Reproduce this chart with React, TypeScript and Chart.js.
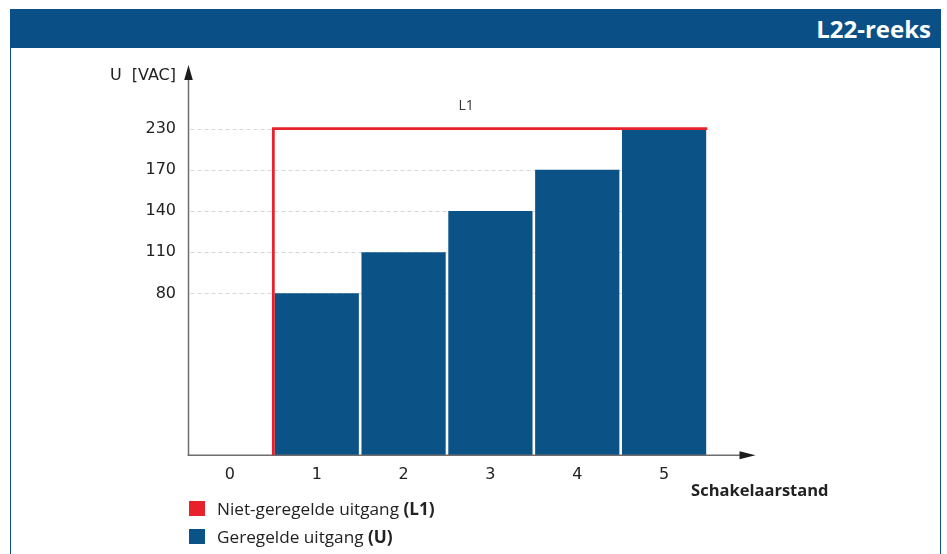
import { useEffect, useRef } from 'react';
import { Chart, registerables } from 'chart.js';

Chart.register(...registerables);

// ---- data ----
const switchPositions = ['0', '1', '2', '3', '4', '5'];
const regulatedOutput: (number | null)[] = [null, 80, 110, 140, 170, 230]; // U
const unregulatedOutput: number[] = [0, 230, 230, 230, 230, 230]; // L1
const yTickValues = [80, 110, 140, 170, 230];
const headerTitle = 'L22-reeks';
const yAxisTitle = 'U [VAC]';
const xAxisTitle = 'Schakelaarstand';
const l1Label = 'L1';
const legendItems = [
  { text: 'Niet-geregelde uitgang ', key: '(L1)', color: '#e8222c' },
  { text: 'Geregelde uitgang ', key: '(U)', color: '#0b5286' },
];

// ---- the original axis is not linear: ticks are evenly spaced ----
const FIRST_STEP = 3.93; // baseline to first tick, in tick steps
const Y_MAX = 9.23;
const knots: [number, number][] = [[0, 0], ...yTickValues.map((v, i) => [v, FIRST_STEP + i] as [number, number])];
function level(v: number): number {
  if (v <= 0) return 0;
  for (let i = 1; i < knots.length; i++) {
    const [v0, p0] = knots[i - 1];
    const [v1, p1] = knots[i];
    if (v <= v1) return p0 + ((v - v0) / (v1 - v0)) * (p1 - p0);
  }
  return knots[knots.length - 1][1];
}

const RED = '#e8222c';
const BLUE = '#0b5286';
const HEADER = '#0b4f87';
const AXIS = '#6e6e6e';

function buildStep(values: number[]) {
  const pts: { x: number; y: number }[] = [];
  values.forEach((v, i) => {
    if (v <= 0) return;
    const prev = i > 0 ? values[i - 1] : 0;
    if (prev <= 0) pts.push({ x: i - 0.5, y: 0 });
    pts.push({ x: i - 0.5, y: level(v) }, { x: i + 0.5, y: level(v) });
  });
  return pts;
}

const decorPlugin = {
  id: 'decor',
  beforeDatasetsDraw(chart: any) {
    const { ctx, chartArea, scales } = chart;
    const axisX = chartArea.left + 2;
    ctx.save();
    ctx.strokeStyle = '#d6d6d6';
    ctx.lineWidth = 1;
    ctx.setLineDash([4, 3]);
    scales.y.ticks.forEach((t: any) => {
      const y = Math.round(scales.y.getPixelForValue(t.value)) + 0.5;
      ctx.beginPath();
      ctx.moveTo(axisX + 2, y);
      ctx.lineTo(chartArea.right, y);
      ctx.stroke();
    });
    ctx.restore();
  },
  afterDatasetDraw(chart: any, args: any) {
    if (args.index !== 0) return;
    const { ctx, chartArea, scales } = chart;
    const axisX = chartArea.left + 2;
    const baseY = scales.y.getPixelForValue(0);
    ctx.save();
    ctx.strokeStyle = AXIS;
    ctx.lineWidth = 1.5;
    ctx.beginPath();
    ctx.moveTo(axisX, baseY + 0.75);
    ctx.lineTo(axisX, chartArea.top + 4);
    ctx.stroke();
    ctx.beginPath();
    ctx.moveTo(axisX - 0.75, baseY);
    ctx.lineTo(chartArea.right + 34, baseY);
    ctx.stroke();
    ctx.fillStyle = '#1c1c1c';
    // y arrow
    ctx.beginPath();
    ctx.moveTo(axisX, chartArea.top - 10);
    ctx.lineTo(axisX - 4.3, chartArea.top + 5);
    ctx.lineTo(axisX + 4.3, chartArea.top + 5);
    ctx.closePath();
    ctx.fill();
    // x arrow
    const tipX = chartArea.right + 48;
    ctx.beginPath();
    ctx.moveTo(tipX, baseY);
    ctx.lineTo(tipX - 16, baseY - 4);
    ctx.lineTo(tipX - 16, baseY + 4);
    ctx.closePath();
    ctx.fill();
    ctx.restore();
  },
  afterDraw(chart: any) {
    const { ctx, chartArea, scales } = chart;
    ctx.save();
    ctx.fillStyle = '#222';
    ctx.font = '16px "DejaVu Sans"';
    ctx.textAlign = 'right';
    ctx.textBaseline = 'middle';
    try { (ctx as any).wordSpacing = '5px'; } catch (e) { /* ignore */ }
    ctx.fillText(yAxisTitle, chartArea.left - 10.5, chartArea.top + 1);
    try { (ctx as any).wordSpacing = '0px'; } catch (e) { /* ignore */ }
    ctx.font = 'bold 16.5px "Open Sans"';
    ctx.fillText(xAxisTitle, chartArea.right + 121, chartArea.bottom + 35.5);
    ctx.textAlign = 'center';
    ctx.fillStyle = '#333';
    ctx.font = '14px "Open Sans"';
    const top = Math.max(...unregulatedOutput);
    ctx.fillText(l1Label, scales.x2.getPixelForValue(2.72), scales.y.getPixelForValue(level(top)) - 23);
    ctx.restore();
  },
};

export default function App() {
  const ref = useRef<HTMLCanvasElement>(null);
  useEffect(() => {
    if (!ref.current) return;
    const chart = new Chart(ref.current, {
      type: 'bar',
      data: {
        labels: switchPositions,
        datasets: [
          {
            type: 'bar',
            label: 'Geregelde uitgang (U)',
            data: regulatedOutput.map((v) => (v == null ? null : level(v))),
            backgroundColor: BLUE,
            barPercentage: 0.97,
            categoryPercentage: 1,
            grouped: false,
            order: 2,
          } as any,
          {
            type: 'line',
            label: 'Niet-geregelde uitgang (L1)',
            data: buildStep(unregulatedOutput),
            xAxisID: 'x2',
            borderColor: RED,
            borderWidth: 2.8,
            pointRadius: 0,
            tension: 0,
            fill: false,
            borderJoinStyle: 'miter',
            borderCapStyle: 'butt',
            order: 1,
          } as any,
        ],
      },
      options: {
        animation: false,
        responsive: false,
        layout: { padding: { left: 126.5, right: 239.5, top: 75, bottom: 58.7 } },
        plugins: { legend: { display: false }, tooltip: { enabled: false } },
        scales: {
          x: {
            type: 'category',
            offset: true,
            grid: { display: false, drawTicks: false },
            border: { display: false },
            ticks: { color: '#222', font: { family: 'DejaVu Sans', size: 16 }, padding: 10, maxRotation: 0 },
            afterFit: (s: any) => { s.height = 40; },
          },
          x2: {
            type: 'linear',
            min: -0.5,
            max: 5.5,
            offset: false,
            display: false,
          },
          y: {
            type: 'linear',
            min: 0,
            max: Y_MAX,
            grid: { display: false, drawTicks: false },
            border: { display: false },
            afterBuildTicks: (s: any) => {
              s.ticks = yTickValues.map((v) => ({ value: level(v) }));
            },
            ticks: {
              color: '#222',
              font: { family: 'DejaVu Sans', size: 16 },
              padding: 10.5,
              callback: (val: any) => {
                const i = yTickValues.findIndex((v) => Math.abs(level(v) - Number(val)) < 1e-6);
                return i >= 0 ? String(yTickValues[i]) : '';
              },
            },
            afterFit: (s: any) => { s.width = 60; },
          },
        },
      } as any,
      plugins: [decorPlugin],
    });
    return () => chart.destroy();
  }, []);

  return (
    <div style={{ position: 'fixed', left: 0, top: 0, width: 947, height: 554, background: '#fff', overflow: 'hidden' }}>
      <div
        style={{
          position: 'absolute', left: 10, top: 9, width: 931, height: 560, boxSizing: 'border-box',
          borderLeft: `1.5px solid ${HEADER}`, borderRight: `1.5px solid ${HEADER}`,
        }}
      />
      <div
        style={{
          position: 'absolute', left: 10, top: 9, width: 931, height: 38.5, background: HEADER, color: '#fff',
          font: 'bold 24px "Open Sans"', display: 'flex', alignItems: 'center', justifyContent: 'flex-end',
          paddingRight: 10, boxSizing: 'border-box',
        }}
      >
        {headerTitle}
      </div>
      <canvas ref={ref} width={947} height={554} style={{ position: 'absolute', left: 0, top: 0, width: 947, height: 554 }} />
      {legendItems.map((it, i) => (
        <div
          key={i}
          style={{
            position: 'absolute', left: 189, top: 499.5 + i * 27.5, height: 18, display: 'flex', alignItems: 'center',
            font: '17.2px "Open Sans"', color: '#222', whiteSpace: 'pre',
          }}
        >
          <span style={{ display: 'inline-block', width: 16, height: 15, background: it.color, marginRight: 12 }} />
          <span>{it.text}<b>{it.key}</b></span>
        </div>
      ))}
    </div>
  );
}
